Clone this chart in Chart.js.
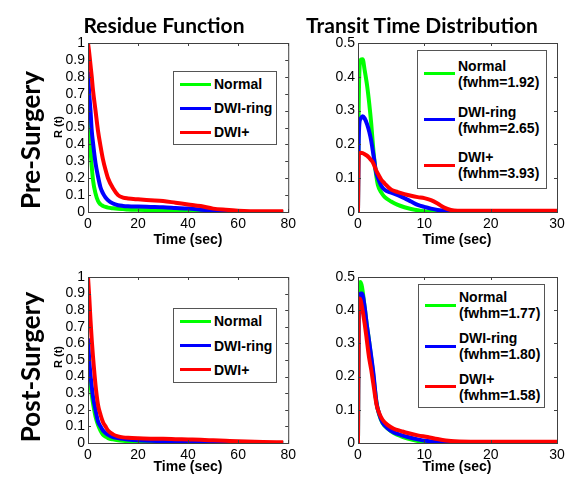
<!DOCTYPE html>
<html>
<head>
<meta charset="utf-8">
<script src="https://cdn.jsdelivr.net/npm/chart.js@4.4.1/dist/chart.umd.min.js"></script>
<style>
  body { margin: 0; background: #fff; }
  #page { position: relative; width: 576px; height: 481px; overflow: hidden; font-family: "Liberation Sans", Arial, sans-serif; color: #000; }
  canvas { position: absolute; }
  .title { position: absolute; font-family: Lato, "Open Sans", sans-serif; font-weight: 700; font-size: 21px; line-height: 1; transform: translate(-50%, -50%); white-space: nowrap; }
  .row { position: absolute; font-family: Lato, "Open Sans", sans-serif; font-weight: 700; font-size: 26px; line-height: 1; transform: translate(-50%, -50%) rotate(-90deg); white-space: nowrap; }
  .ylab { position: absolute; font-weight: 700; font-size: 11px; line-height: 1; transform: translate(-50%, -50%) rotate(-90deg); white-space: nowrap; }
  .xlab { position: absolute; font-weight: 700; font-size: 14px; line-height: 1; transform: translate(-50%, -50%); white-space: nowrap; }
  .legend { position: absolute; border: 1px solid #555; background: #fff; box-sizing: border-box; }
  .entry { position: absolute; left: 0; right: 0; display: flex; align-items: center; transform: translateY(-50%); }
  .swatch { width: 31px; height: 3px; margin-left: 6px; margin-right: 3px; flex: none; }
  .label { font-weight: 700; font-size: 14px; line-height: 16px; white-space: nowrap; }
</style>
</head>
<body>
<div id="page">
  <canvas id="c1" width="260" height="220"></canvas>
  <canvas id="c2" width="260" height="220"></canvas>
  <canvas id="c3" width="260" height="215"></canvas>
  <canvas id="c4" width="260" height="215"></canvas>
</div>
<script>
// Series
const seriesNames = ['Normal', 'DWI-ring', 'DWI+'];
const seriesColors = ['#00ff00', '#0000ff', '#ff0000'];
const preFwhm = ['1.92', '2.65', '3.93'];
const postFwhm = ['1.77', '1.80', '1.58'];

// Tick labels
const residueXTicks = [0, 20, 40, 60, 80];
const residueYTicks = [0, 0.1, 0.2, 0.3, 0.4, 0.5, 0.6, 0.7, 0.8, 0.9, 1];
const transitXTicks = [0, 10, 20, 30];
const transitYTicks = [0, 0.1, 0.2, 0.3, 0.4, 0.5];

// Residue function, time in sec
const residueTime = [0, 0.5, 1, 1.5, 2, 3, 4, 5, 6, 7, 8, 10, 12, 14, 16, 20, 25, 30, 35, 40, 45, 50, 55, 60, 70, 78];
const preResNormal = [0.71, 0.52, 0.37, 0.27, 0.19, 0.11, 0.065, 0.045, 0.036, 0.03, 0.026, 0.022, 0.019, 0.017, 0.015, 0.013, 0.011, 0.009, 0.007, 0.005, 0.003, 0.001, 0, 0, 0, 0];
const preResRing = [0.83, 0.7, 0.6, 0.48, 0.41, 0.29, 0.21, 0.145, 0.11, 0.086, 0.07, 0.05, 0.04, 0.036, 0.034, 0.032, 0.03, 0.028, 0.024, 0.02, 0.014, 0.008, 0.003, 0, 0, 0];
const preResPlus = [1, 0.94, 0.87, 0.8, 0.72, 0.6, 0.48, 0.39, 0.31, 0.25, 0.2, 0.14, 0.1, 0.085, 0.08, 0.075, 0.07, 0.065, 0.055, 0.045, 0.035, 0.02, 0.013, 0.008, 0.005, 0.005];
const postResNormal = [0.57, 0.43, 0.35, 0.29, 0.24, 0.16, 0.11, 0.075, 0.05, 0.038, 0.03, 0.022, 0.017, 0.014, 0.012, 0.009, 0.007, 0.005, 0.004, 0.003, 0.002, 0.001, 0, 0, 0, 0];
const postResRing = [0.63, 0.5, 0.41, 0.34, 0.28, 0.2, 0.13, 0.1, 0.075, 0.06, 0.05, 0.036, 0.03, 0.025, 0.021, 0.016, 0.013, 0.011, 0.009, 0.008, 0.006, 0.004, 0.002, 0.001, 0, 0];
const postResPlus = [1, 0.88, 0.74, 0.62, 0.52, 0.35, 0.23, 0.17, 0.125, 0.1, 0.075, 0.052, 0.04, 0.034, 0.031, 0.028, 0.026, 0.025, 0.023, 0.021, 0.019, 0.016, 0.013, 0.01, 0.006, 0.004];

// Transit time distribution, pre-surgery
const preTransitTime = [0, 0.1, 0.2, 0.4, 0.7, 1, 1.4, 1.7, 2, 2.2, 2.4, 2.7, 3, 3.5, 4, 5, 6, 7, 8, 9, 10, 11, 12, 13, 14, 15, 17, 20, 30];
const preTtdNormal = [0, 0.3, 0.41, 0.45, 0.452, 0.42, 0.37, 0.32, 0.26, 0.21, 0.165, 0.115, 0.08, 0.058, 0.045, 0.031, 0.021, 0.014, 0.009, 0.005, 0.002, 0.001, 0, 0, 0, 0, 0, 0, 0];
const preTtdRing = [0, 0.2, 0.26, 0.276, 0.283, 0.277, 0.258, 0.237, 0.21, 0.185, 0.16, 0.12, 0.1, 0.078, 0.066, 0.057, 0.05, 0.041, 0.031, 0.021, 0.015, 0.01, 0.006, 0.004, 0.002, 0, 0, 0, 0];
const preTtdPlus = [0, 0.17, 0.173, 0.175, 0.174, 0.171, 0.166, 0.16, 0.153, 0.148, 0.14, 0.125, 0.113, 0.096, 0.085, 0.066, 0.059, 0.053, 0.048, 0.044, 0.041, 0.035, 0.025, 0.013, 0.006, 0.004, 0.004, 0.004, 0.004];

// Transit time distribution, post-surgery
const postTransitTime = [0, 0.1, 0.25, 0.4, 0.6, 1, 1.3, 1.65, 2, 2.3, 2.8, 3.2, 3.7, 4.5, 5.4, 6.5, 7.5, 9, 10.5, 12, 14, 17, 20, 30];
const postTtdNormal = [0, 0.38, 0.47, 0.485, 0.47, 0.41, 0.36, 0.31, 0.255, 0.205, 0.12, 0.085, 0.06, 0.043, 0.03, 0.02, 0.013, 0.006, 0.002, 0, 0, 0, 0, 0];
const postTtdRing = [0, 0.37, 0.44, 0.45, 0.45, 0.41, 0.36, 0.31, 0.26, 0.214, 0.12, 0.087, 0.062, 0.044, 0.032, 0.024, 0.018, 0.011, 0.006, 0.003, 0.001, 0, 0, 0];
const postTtdPlus = [0, 0.4, 0.435, 0.43, 0.41, 0.36, 0.315, 0.26, 0.22, 0.18, 0.115, 0.09, 0.07, 0.054, 0.043, 0.036, 0.03, 0.023, 0.018, 0.012, 0.006, 0.004, 0.004, 0.004];

// Panel placement (pixels on the page)
const panels = [
  { id: 'c1', left: 40, top: 30, padTop: 13, padRight: 11, yW: 48, xH: 38,
    time: residueTime, values: [preResNormal, preResRing, preResPlus], xTicks: residueXTicks, yTicks: residueYTicks,
    legend: { left: 173, top: 71, w: 104, h: 74 }, fwhm: null, xlab: [188, 239], ylab: [58, 127] },
  { id: 'c2', left: 310, top: 30, padTop: 13, padRight: 13, yW: 48, xH: 38,
    time: preTransitTime, values: [preTtdNormal, preTtdRing, preTtdPlus], xTicks: transitXTicks, yTicks: transitYTicks,
    legend: { left: 417, top: 50, w: 130, h: 139 }, fwhm: preFwhm, xlab: [457, 239] },
  { id: 'c3', left: 40, top: 262, padTop: 15, padRight: 11, yW: 48, xH: 34,
    time: residueTime, values: [postResNormal, postResRing, postResPlus], xTicks: residueXTicks, yTicks: residueYTicks,
    legend: { left: 173, top: 308, w: 104, h: 75 }, fwhm: null, xlab: [188, 466], ylab: [58, 357] },
  { id: 'c4', left: 310, top: 262, padTop: 15, padRight: 13, yW: 48, xH: 34,
    time: postTransitTime, values: [postTtdNormal, postTtdRing, postTtdPlus], xTicks: transitXTicks, yTicks: transitYTicks,
    legend: { left: 418, top: 284, w: 127, h: 124 }, fwhm: postFwhm, xlab: [457, 466] }
];

Chart.defaults.font.family = '"Liberation Sans", Arial, sans-serif';
Chart.defaults.color = '#000';

// MATLAB style box with inward ticks
const boxPlugin = {
  id: 'box',
  afterDraw(chart) {
    const { ctx, chartArea: a, scales } = chart;
    ctx.save();
    ctx.strokeStyle = '#404040';
    ctx.lineWidth = 1;
    ctx.beginPath();
    scales.x.ticks.forEach((t) => {
      const x = Math.round(scales.x.getPixelForValue(t.value)) + 0.5;
      ctx.moveTo(x, a.bottom); ctx.lineTo(x, a.bottom - 3);
      ctx.moveTo(x, a.top); ctx.lineTo(x, a.top + 3);
    });
    scales.y.ticks.forEach((t) => {
      const y = Math.round(scales.y.getPixelForValue(t.value)) + 0.5;
      ctx.moveTo(a.left, y); ctx.lineTo(a.left + 3, y);
      ctx.moveTo(a.right, y); ctx.lineTo(a.right - 3, y);
    });
    ctx.stroke();
    ctx.strokeRect(a.left + 0.5, a.top + 0.5, a.right - a.left, a.bottom - a.top);
    ctx.restore();
  }
};

const page = document.getElementById('page');

function addText(cls, text, x, y) {
  const div = document.createElement('div');
  div.className = cls;
  div.textContent = text;
  div.style.left = x + 'px';
  div.style.top = y + 'px';
  page.appendChild(div);
}

function addLegend(p) {
  const box = document.createElement('div');
  box.className = 'legend';
  box.style.left = p.legend.left + 'px';
  box.style.top = p.legend.top + 'px';
  box.style.width = p.legend.w + 'px';
  box.style.height = p.legend.h + 'px';
  seriesNames.forEach((name, i) => {
    const entry = document.createElement('div');
    entry.className = 'entry';
    entry.style.top = ((i * 2 + 1) / 6 * (p.legend.h - 2)) + 'px';
    const sw = document.createElement('div');
    sw.className = 'swatch';
    sw.style.background = seriesColors[i];
    const lab = document.createElement('div');
    lab.className = 'label';
    lab.innerHTML = p.fwhm ? name + '<br>(fwhm=' + p.fwhm[i] + ')' : name;
    entry.appendChild(sw);
    entry.appendChild(lab);
    box.appendChild(entry);
  });
  page.appendChild(box);
}

function makeChart(p) {
  const canvas = document.getElementById(p.id);
  canvas.style.left = p.left + 'px';
  canvas.style.top = p.top + 'px';
  new Chart(canvas, {
    type: 'line',
    data: {
      datasets: p.values.map((v, i) => ({
        label: seriesNames[i],
        data: p.time.map((t, j) => ({ x: t, y: v[j] })),
        borderColor: seriesColors[i],
        borderWidth: 4,
        pointRadius: 0,
        cubicInterpolationMode: 'monotone',
        order: 3 - i
      }))
    },
    options: {
      responsive: false,
      animation: false,
      devicePixelRatio: 1,
      layout: { padding: { top: p.padTop, right: p.padRight, left: 0, bottom: 0 } },
      plugins: { legend: { display: false }, tooltip: { enabled: false } },
      scales: {
        x: {
          type: 'linear',
          min: p.xTicks[0],
          max: p.xTicks[p.xTicks.length - 1],
          afterBuildTicks: (s) => { s.ticks = p.xTicks.map((v) => ({ value: v })); },
          afterFit: (s) => { s.height = p.xH; },
          grid: { display: false, drawTicks: false },
          border: { display: false },
          ticks: { font: { size: 14 }, padding: 4, maxRotation: 0, autoSkip: false, callback: (v) => String(v) }
        },
        y: {
          type: 'linear',
          min: p.yTicks[0],
          max: p.yTicks[p.yTicks.length - 1],
          afterBuildTicks: (s) => { s.ticks = p.yTicks.map((v) => ({ value: v })); },
          afterFit: (s) => { s.width = p.yW; },
          grid: { display: false, drawTicks: false },
          border: { display: false },
          ticks: { font: { size: 14 }, padding: 3, autoSkip: false, callback: (v) => String(v) }
        }
      }
    },
    plugins: [boxPlugin]
  });
  addLegend(p);
  addText('xlab', 'Time (sec)', p.xlab[0], p.xlab[1]);
  if (p.ylab) addText('ylab', 'R (t)', p.ylab[0], p.ylab[1]);
}

panels.forEach(makeChart);

addText('title', 'Residue Function', 164, 24);
addText('title', 'Transit Time Distribution', 422, 24);
addText('row', 'Pre-Surgery', 30, 140);
addText('row', 'Post-Surgery', 30, 367);
</script>
</body>
</html>
